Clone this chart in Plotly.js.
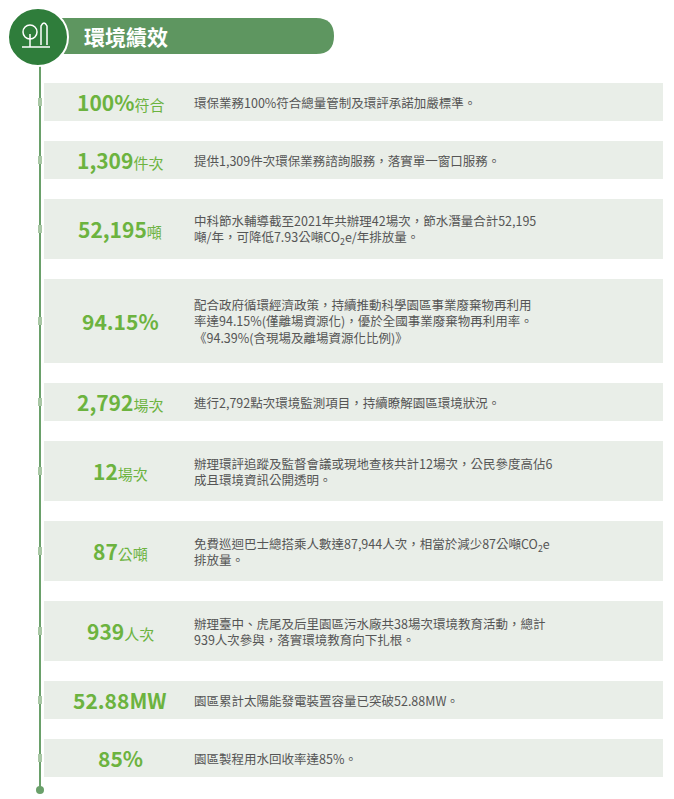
<!DOCTYPE html>
<html>
<head>
<meta charset="utf-8">
<script src="https://cdn.plot.ly/plotly-3.0.1.min.js"></script>
<style>body{margin:0;background:#fff}#chart{width:674px;height:799px}</style>
</head>
<body>
<div id="chart"></div>
<script>
const title = '環境績效';
const keyValues = ['100%', '1,309', '52,195', '94.15%', '2,792', '12', '87', '939', '52.88MW', '85%'];
const keyUnits = ['符合', '件次', '噸', '', '場次', '場次', '公噸', '人次', '', ''];
const descriptions = [
    ['環保業務100%符合總量管制及環評承諾加嚴標準。'],
    ['提供1,309件次環保業務諮詢服務，落實單一窗口服務。'],
    ['中科節水輔導截至2021年共辦理42場次，節水潛量合計52,195', '噸/年，可降低7.93公噸CO<sub>2</sub>e/年排放量。'],
    ['配合政府循環經濟政策，持續推動科學園區事業廢棄物再利用', '率達94.15%(僅離場資源化)，優於全國事業廢棄物再利用率。', '《94.39%(含現場及離場資源化比例)》'],
    ['進行2,792點次環境監測項目，持續瞭解園區環境狀況。'],
    ['辦理環評追蹤及監督會議或現地查核共計12場次，公民參度高佔6', '成且環境資訊公開透明。'],
    ['免費巡迴巴士總搭乘人數達87,944人次，相當於減少87公噸CO<sub>2</sub>e', '排放量。'],
    ['辦理臺中、虎尾及后里園區污水廠共38場次環境教育活動，總計', '939人次參與，落實環境教育向下扎根。'],
    ['園區累計太陽能發電裝置容量已突破52.88MW。'],
    ['園區製程用水回收率達85%。']
];

const FONT = '"Noto Sans CJK TC", "Noto Sans", sans-serif';
const GREEN = '#6cb33f';
const shapes = [];
const annotations = [];

// timeline
shapes.push({type: 'line', x0: 40, x1: 40, y0: 60, y1: 790, line: {color: '#6aa06a', width: 2}});
shapes.push({type: 'circle', x0: 36, x1: 44, y0: 786, y1: 794, fillcolor: '#6aa06a', line: {width: 0}});

// header
shapes.push({type: 'path', path: 'M 40 18 L 316 18 Q 334 18 334 36 Q 334 54 316 54 L 40 54 Z',
    fillcolor: '#5e9660', line: {width: 0}});
shapes.push({type: 'circle', x0: 8, x1: 68, y0: 8, y1: 66, fillcolor: '#2f7d3b', line: {color: '#ffffff', width: 2}});
// tree icon
shapes.push({type: 'circle', x0: 23, x1: 37, y0: 25, y1: 39, line: {color: '#fff', width: 1.5}});
shapes.push({type: 'path', path: 'M 41 45 L 41 26 Q 44 20 47 26 L 47 45', line: {color: '#fff', width: 1.5}});
shapes.push({type: 'line', x0: 30, x1: 30, y0: 34, y1: 47, line: {color: '#fff', width: 1.5}});
shapes.push({type: 'line', x0: 22, x1: 50, y0: 47, y1: 47, line: {color: '#fff', width: 1.5}});
annotations.push({x: 82, y: 36, text: '<b>' + title + '</b>', showarrow: false, xanchor: 'left', yanchor: 'middle',
    font: {family: FONT, size: 21, color: '#ffffff'}});

let rowTop = 83;
for (let i = 0; i < keyValues.length; i++) {
    const n = descriptions[i].length;
    const h = n === 1 ? 38 : (n === 2 ? 60 : 84);
    const mid = rowTop + h / 2;
    shapes.push({type: 'rect', x0: 44, x1: 663, y0: rowTop, y1: rowTop + h, fillcolor: '#e9eee8', line: {width: 0}, layer: 'below'});
    shapes.push({type: 'rect', x0: 38, x1: 42, y0: mid - 4, y1: mid + 4, fillcolor: '#a9c7a5', line: {width: 0}});
    const unit = keyUnits[i] ? '<span style="font-size:15px">' + keyUnits[i] + '</span>' : '';
    annotations.push({x: 120, y: mid, text: '<b>' + keyValues[i] + '</b>' + unit, showarrow: false,
        xanchor: 'center', yanchor: 'middle', font: {family: FONT, size: 21, color: GREEN}});
    annotations.push({x: 192, y: mid, text: descriptions[i].join('<br>'), showarrow: false, align: 'left',
        xanchor: 'left', yanchor: 'middle', font: {family: FONT, size: 12.5, color: '#555555'}});
    rowTop += h + 20;
}

const layout = {
    width: 674, height: 799,
    margin: {l: 0, r: 0, t: 0, b: 0},
    paper_bgcolor: '#ffffff', plot_bgcolor: '#ffffff',
    xaxis: {range: [0, 674], visible: false, fixedrange: true},
    yaxis: {range: [799, 0], visible: false, fixedrange: true},
    shapes: shapes,
    annotations: annotations,
    showlegend: false
};
Plotly.newPlot('chart', [], layout, {displayModeBar: false, staticPlot: true});
</script>
</body>
</html>
